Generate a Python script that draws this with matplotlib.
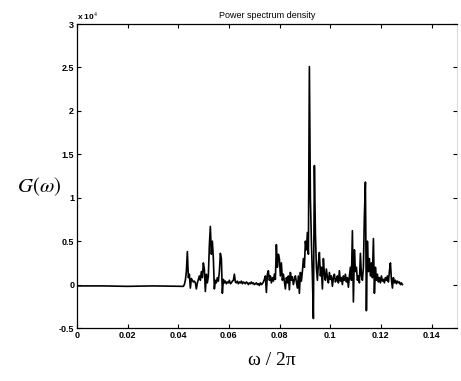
import numpy as np
import matplotlib.pyplot as plt

plt.rcParams['mathtext.fontset'] = 'stix'

# flat low-frequency part (x 1e4)
flat_freq = [0.0, 0.010, 0.020, 0.030, 0.0416]
flat_psd = [-0.015, -0.015, -0.02, -0.015, -0.02]

# active band, one bin every 0.000395 starting at 0.042
f_start = 0.042
f_step = 0.000395
band_psd = [
    -0.02, 0.0, 0.05, 0.15, 0.38, 0.08, 0.12, -0.04, 0.07, 0.05,
    0.03, 0.04, 0.02, -0.05, 0.02, 0.06, 0.1, 0.05, 0.15, 0.08,
    0.25, 0.18, -0.08, 0.12, 0.02, 0.1, 0.45, 0.67, 0.35, 0.5,
    0.3, -0.05, 0.05, 0.02, 0.08, 0.04, 0.15, 0.36, 0.3, -0.1,
    0.06, 0.02, 0.04, 0.01, 0.03, 0.02, 0.05, 0.01, 0.02, 0.04,
    0.05, 0.12, 0.03, 0.02, 0.04, 0.01, 0.03, 0.02, 0.04, 0.01,
    0.03, 0.02, 0.01, 0.03, 0.02, 0.0, 0.02, 0.01, 0.03, 0.01,
    0.02, 0.0, 0.01, 0.02, 0.0, 0.01, -0.01, 0.02, 0.0, 0.01,
    0.03, 0.06, 0.1, -0.09, 0.12, 0.16, 0.05, 0.1, 0.02, 0.08,
    0.04, 0.12, 0.06, 0.46, 0.2, 0.35, 0.3, 0.1, 0.25, 0.05,
    0.12, 0.03, -0.05, 0.08, 0.02, 0.1, -0.06, 0.14, 0.05, 0.09,
    0.0, 0.06, 0.1, 0.03, -0.04, 0.1, -0.1, 0.14, 0.04, 0.15,
    0.3, 0.2, 0.5, 0.4, 0.6, 0.35, 2.51, 1.0, 0.5, 0.1,
    -0.39, 1.37, 0.6, 0.2, 0.05, 0.25, 0.37, 0.1, 0.2, -0.05,
    0.3, 0.12, 0.05, 0.18, 0.08, 0.02, 0.14, 0.06, 0.1, -0.02,
    0.08, 0.12, 0.03, 0.06, 0.1, 0.02, 0.16, 0.04, 0.08, 0.0,
    0.1, 0.05, 0.12, 0.03, 0.08, -0.03, 0.1, 0.2, 0.05, 0.62,
    -0.2, 0.4, 0.15, 0.2, 0.05, 0.1, 0.02, 0.36, 0.1, 0.05,
    0.2, 0.8, 1.18, -0.3, 0.5, 0.15, 0.3, 0.1, 0.25, 0.08,
    0.53, -0.1, 0.2, 0.05, 0.12, 0.03, 0.08, 0.02, 0.1, 0.04,
    0.06, 0.02, 0.08, 0.05, 0.1, 0.03, 0.15, 0.25, 0.06, -0.04,
    0.08, 0.02, 0.05, 0.01, 0.04, 0.02, 0.03, 0.0, 0.02, 0.0,
]

x_ticks = [0, 0.02, 0.04, 0.06, 0.08, 0.1, 0.12, 0.14]
x_labels = ['0', '0.02', '0.04', '0.06', '0.08', '0.1', '0.12', '0.14']
y_ticks = [-0.5, 0, 0.5, 1, 1.5, 2, 2.5, 3]
y_labels = ['-0.5', '0', '0.5', '1', '1.5', '2', '2.5', '3']

band_freq = f_start + f_step * np.arange(len(band_psd))
freq = np.concatenate([flat_freq, band_freq])
psd = np.concatenate([flat_psd, band_psd])

fig = plt.figure(figsize=(4.61, 3.81), dpi=100)
ax = fig.add_axes([0.167, 0.139, 0.824, 0.798])
ax.plot(freq, psd, color='black', lw=1.2)

ax.set_xlim(0, 0.15)
ax.set_ylim(-0.5, 3)
ax.set_xticks(x_ticks)
ax.set_xticklabels(x_labels)
ax.set_yticks(y_ticks)
ax.set_yticklabels(y_labels)
ax.tick_params(direction='in', length=3, width=0.8, top=True, right=True,
               labelsize=6.5, pad=2)
for lab in ax.get_xticklabels() + ax.get_yticklabels():
    lab.set_fontfamily('Liberation Sans')
    lab.set_fontweight('bold')
for sp in ax.spines.values():
    sp.set_linewidth(0.9)
ax.spines['right'].set_linewidth(0.4)
ax.spines['right'].set_color('#bbbbbb')

ax.set_title('Power spectrum density', fontsize=6.5, family='Liberation Sans', pad=4)
ax.text(0.0, 1.005, 'x 10$^4$', transform=ax.transAxes, fontsize=6,
        family='Liberation Sans', fontweight='bold', va='bottom', ha='left')

fig.text(0.085, 0.51, r'$G(\omega)$', fontsize=15, ha='center', va='center')
fig.text(0.59, 0.053, 'ω / 2π', fontsize=14, family='Liberation Serif',
         ha='center', va='center')

fig.savefig('out.png', dpi=100)
